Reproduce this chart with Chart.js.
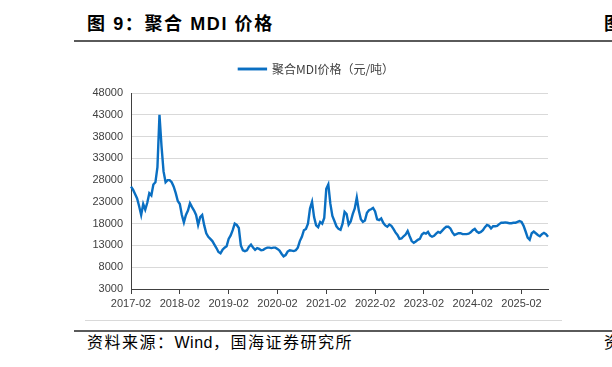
<!DOCTYPE html>
<html>
<head>
<meta charset="utf-8">
<script src="https://cdn.jsdelivr.net/npm/chart.js@4.4.1/dist/chart.umd.min.js"></script>
<style>
  body { margin: 0; width: 612px; height: 367px; background: #fff; overflow: hidden; position: relative; }
  .title { position: absolute; left: 87px; top: 14px; font: bold 18px "Liberation Sans", "Noto Sans CJK SC", sans-serif; line-height: 20px; letter-spacing: 1.6px; color: #000; white-space: nowrap; }
  .rule { position: absolute; left: 74px; width: 538px; height: 2px; background: #5a5a5a; }
  .frame { position: absolute; left: 85px; top: 320px; width: 477px; height: 1px; background: #d9d9d9; }
  .source { position: absolute; left: 87px; top: 334px; font: 16px "Liberation Sans", "Noto Sans CJK SC", sans-serif; line-height: 18px; letter-spacing: 1.5px; color: #000; white-space: nowrap; }
  .source span { letter-spacing: 0.5px; }
  #box { position: absolute; left: 85px; top: 55px; width: 477px; height: 265px; }
</style>
</head>
<body>
<div class="title">图 9：聚合 MDI 价格</div>
<div class="title" style="left:604px">图</div>
<div class="rule" style="top:40px"></div>
<div id="box"><canvas id="myChart" width="477" height="265"></canvas></div>
<div class="frame"></div>
<div class="rule" style="top:330px"></div>
<div class="source">资料来源：<span>Wind</span>，国海证券研究所</div>
<div class="source" style="left:604px">资</div>
<script>
// half-month observations, 2017-02 .. 2025-08
var dates = [];
(function () {
    var y = 2017, m = 2;
    while (dates.length < 206) {
        var mm = (m < 10 ? '0' : '') + m;
        dates.push(y + '-' + mm + '-01');
        dates.push(y + '-' + mm + '-16');
        m++;
        if (m > 12) { m = 1; y++; }
    }
})();

// 聚合MDI价格（元/吨）
var prices = [
    26500, 25800, 24800, 23800, 22000, 20000, 22500, 21200, 22800, 25000,
    24500, 27000, 27500, 31000, 43000, 35800, 30000, 27500, 28000, 28000,
    27500, 26500, 25000, 23200, 22500, 20000, 18300, 20000, 21000, 22700,
    21800, 21000, 20000, 17700, 19500, 20000, 17600, 15800, 15000, 14500,
    14000, 13200, 12400, 11500, 11200, 12000, 12500, 12800, 14500, 15300,
    16500, 18000, 17700, 17000, 13000, 11900, 11700, 11900, 12700, 13200,
    12500, 12000, 12400, 12200, 11900, 12000, 12300, 12500, 12500, 12400,
    12500, 12500, 12200, 11800, 11100, 10500, 10800, 11600, 11900, 11800,
    11700, 11900, 12500, 14000, 15000, 16500, 16800, 18000, 21500, 23000,
    19500, 17600, 17200, 18400, 18000, 19300, 26000, 27000, 22600, 19800,
    18600, 17400, 16800, 16600, 18000, 20700, 20200, 17800, 18500, 20200,
    21500, 24000, 21000, 19000, 18400, 18700, 20500, 21100, 21300, 21600,
    20800, 19000, 18800, 19200, 18200, 17600, 17300, 17800, 17500, 16800,
    16000, 15400, 14500, 14600, 15100, 15500, 16300, 15100, 14000, 13600,
    13900, 14300, 14500, 15500, 15900, 15700, 16100, 15300, 15000, 15200,
    15700, 16100, 15900, 16400, 16900, 17300, 17300, 16900, 16000, 15400,
    15600, 15800, 15800, 15600, 15600, 15600, 15700, 16000, 16500, 16800,
    16200, 15900, 16100, 16500, 17200, 17700, 17500, 16900, 17400, 17400,
    17500, 17900, 18200, 18200, 18300, 18200, 18100, 18100, 18200, 18200,
    18400, 18600, 18400, 17500, 16200, 14800, 14300, 15800, 16200, 15800,
    15400, 15100, 15600, 15900, 15600, 15000
];

var tickLabels = ['2017-02', '2018-02', '2019-02', '2020-02', '2021-02',
                  '2022-02', '2023-02', '2024-02', '2025-02'];

var yMin = 3000, yMax = 48000, yStep = 5000;

var tickFont = { family: '"Liberation Sans", Arial, sans-serif', size: 11 };

// room between legend and plot
var legendGap = {
    id: 'legendGap',
    beforeInit: function (chart) {
        var fit = chart.legend.fit;
        chart.legend.fit = function () {
            fit.bind(chart.legend)();
            this.height += 8;
        };
    }
};

function renderChart() {
    var ctx = document.getElementById('myChart').getContext('2d');
    new Chart(ctx, {
        type: 'line',
        data: {
            labels: dates,
            datasets: [{
                label: '聚合MDI价格（元/吨）',
                data: prices,
                borderColor: '#0a6fc2',
                backgroundColor: '#0a6fc2',
                borderWidth: 2.4,
                pointRadius: 0,
                tension: 0
            }]
        },
        options: {
            responsive: false,
            animation: false,
            layout: { padding: { top: 0, right: 14, left: 0, bottom: 0 } },
            plugins: {
                legend: {
                    position: 'top',
                    labels: {
                        boxWidth: 27,
                        boxHeight: 0.5,
                        padding: 8,
                        color: '#404040',
                        font: { family: '"Noto Sans CJK SC", sans-serif', size: 12 }
                    }
                },
                tooltip: { enabled: false }
            },
            scales: {
                x: {
                    offset: false,
                    afterBuildTicks: function (scale) {
                        scale.ticks = scale.ticks.filter(function (t) {
                            var d = dates[t.value];
                            return d.slice(8) === '01' && tickLabels.indexOf(d.slice(0, 7)) >= 0;
                        });
                    },
                    afterFit: function (scale) { scale.height = 31; },
                    grid: { drawOnChartArea: false, drawTicks: true, tickLength: 5, color: '#404040' },
                    border: { color: '#404040', width: 1 },
                    ticks: {
                        autoSkip: false,
                        maxRotation: 0,
                        padding: 3,
                        color: '#404040',
                        font: tickFont,
                        callback: function (value) { return dates[value].slice(0, 7); }
                    }
                },
                y: {
                    min: yMin,
                    max: yMax,
                    afterFit: function (scale) { scale.width = 46; },
                    grid: { color: '#d9d9d9', lineWidth: 1, drawTicks: false },
                    border: { color: '#404040', width: 1 },
                    ticks: {
                        stepSize: yStep,
                        padding: 8,
                        color: '#404040',
                        font: tickFont,
                        callback: function (value) { return String(value); }
                    }
                }
            }
        },
        plugins: [legendGap]
    });
}

renderChart();
</script>
</body>
</html>
